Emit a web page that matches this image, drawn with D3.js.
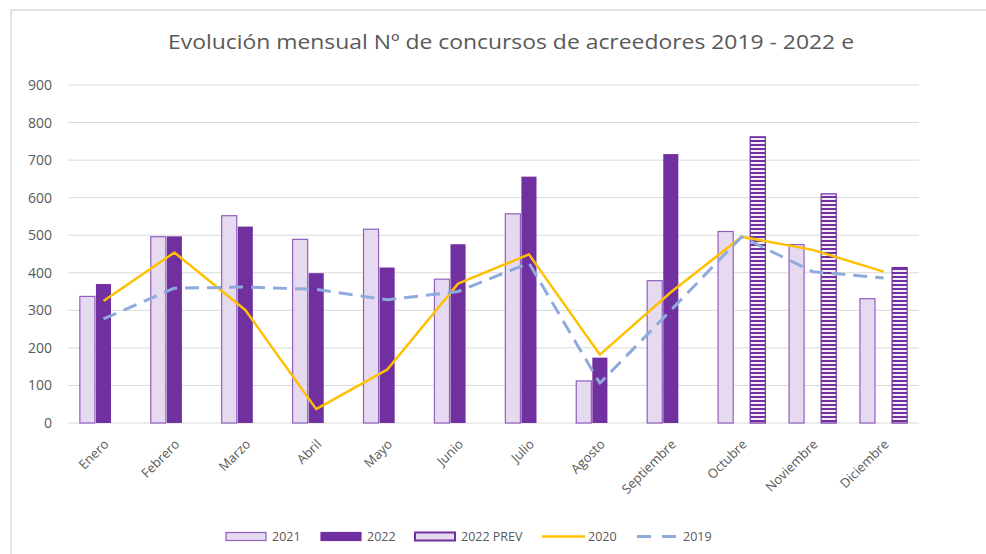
<!DOCTYPE html>
<html>
<head>
<meta charset="utf-8">
<title>Evolución mensual concursos</title>
<script src="https://cdn.jsdelivr.net/npm/d3@7"></script>
<style>
  body { margin: 0; background: #fff; }
  text { font-family: "Open Sans", "Noto Sans", sans-serif; fill: #595959; }
</style>
</head>
<body>
<svg id="chart" width="986" height="554"></svg>
<script>
// data
const months = ["Enero","Febrero","Marzo","Abril","Mayo","Junio","Julio","Agosto","Septiembre","Octubre","Noviembre","Diciembre"];
const v2021 = [337, 496, 552, 489, 516, 383, 557, 112, 379, 510, 475, 331];
const v2022 = [370, 497, 523, 399, 414, 476, 656, 174, 716, null, null, null];
const v2022prev = [null, null, null, null, null, null, null, null, null, 762, 610, 414];
const v2020 = [325, 454, 301, 37, 142, 371, 449, 182, 348, 496, 461, 403];
const v2019 = [277, 359, 362, 356, 328, 350, 426, 106, 300, 496, 403, 386];
const yTicks = [0, 100, 200, 300, 400, 500, 600, 700, 800, 900];

const barSeries = ["2021", "2022", "2022 PREV"];
const barValues = { "2021": v2021, "2022": v2022, "2022 PREV": v2022prev };

const svg = d3.select("#chart");
const purple = "#7030A0";

// pattern for the forecast bars
const defs = svg.append("defs");
const pat = defs.append("pattern")
    .attr("id", "stripes")
    .attr("patternUnits", "userSpaceOnUse")
    .attr("width", 8).attr("height", 4);
pat.append("rect").attr("width", 8).attr("height", 4).attr("fill", "#F4EEF9");
pat.append("rect").attr("width", 8).attr("height", 2).attr("fill", purple);

// chart border (top and left visible)
svg.append("rect")
    .attr("x", 11).attr("y", 10)
    .attr("width", 1000).attr("height", 600)
    .attr("fill", "none")
    .attr("stroke", "#D9D9D9")
    .attr("stroke-width", 1.5);

// title
svg.append("text")
    .attr("x", 511).attr("y", 49)
    .attr("text-anchor", "middle")
    .attr("font-size", 20)
    .attr("textLength", 686)
    .attr("lengthAdjust", "spacingAndGlyphs")
    .text("Evolución mensual Nº de concursos de acreedores 2019 - 2022 e");

const x = d3.scaleBand().domain(months).range([68, 919]).paddingInner(0.32).paddingOuter(0.16);
const xs = d3.scaleBand().domain(barSeries).range([0, x.bandwidth()]);
const y = d3.scaleLinear().domain([0, 900]).range([423, 85]);

// gridlines + y labels
const grid = svg.append("g");
grid.selectAll("line").data(yTicks).join("line")
    .attr("x1", 68).attr("x2", 919)
    .attr("y1", d => y(d)).attr("y2", d => y(d))
    .attr("stroke", "#D9D9D9").attr("stroke-width", 1);
grid.selectAll("text").data(yTicks).join("text")
    .attr("x", 52).attr("y", d => y(d) + 5)
    .attr("text-anchor", "end")
    .attr("font-size", 14)
    .text(d => d);

// bars
const bars = [];
barSeries.forEach(s => {
  barValues[s].forEach((v, i) => {
    if (v != null) bars.push({ s, m: months[i], v });
  });
});
svg.append("g").selectAll("rect").data(bars).join("rect")
    .attr("x", d => x(d.m) + xs(d.s) + 0.5)
    .attr("width", xs.bandwidth() - 1)
    .attr("y", d => y(d.v))
    .attr("height", d => y(0) - y(d.v))
    .attr("fill", d => d.s === "2021" ? "#E6DAF1" : d.s === "2022" ? purple : "url(#stripes)")
    .attr("stroke", d => d.s === "2021" ? "#9060BC" : purple)
    .attr("stroke-width", d => d.s === "2022" ? 0 : 1.2);

// lines
const cx = m => x(m) + x.bandwidth() / 2;
svg.append("path")
    .datum(v2020)
    .attr("fill", "none")
    .attr("stroke", "#FFC000")
    .attr("stroke-width", 2.5)
    .attr("stroke-linejoin", "round")
    .attr("d", d3.line().x((d, i) => cx(months[i])).y(d => y(d)));

svg.append("path")
    .datum(v2019)
    .attr("fill", "none")
    .attr("stroke", "#8FAADC")
    .attr("stroke-width", 3)
    .attr("stroke-dasharray", "14,8")
    .attr("stroke-linejoin", "round")
    .attr("d", d3.line().x((d, i) => cx(months[i])).y(d => y(d)));

// x labels
svg.append("g").selectAll("text").data(months).join("text")
    .attr("transform", d => `translate(${cx(d) + 6},${445}) rotate(-45)`)
    .attr("text-anchor", "end")
    .attr("font-size", 13)
    .text(d => d);

// legend
const legend = [
  { name: "2021", x: 226, type: "bar" },
  { name: "2022", x: 321, type: "bar" },
  { name: "2022 PREV", x: 415, type: "bar" },
  { name: "2020", x: 542, type: "line" },
  { name: "2019", x: 637, type: "dash" }
];
const lg = svg.append("g");
legend.forEach(l => {
  if (l.type === "bar") {
    lg.append("rect")
      .attr("x", l.x).attr("y", 532.5).attr("width", 40).attr("height", 8)
      .attr("fill", l.name === "2021" ? "#E6DAF1" : l.name === "2022" ? purple : "#E6DAF1")
      .attr("stroke", l.name === "2021" ? "#9060BC" : purple)
      .attr("stroke-width", l.name === "2022 PREV" ? 2 : 1.2);
  } else {
    lg.append("line")
      .attr("x1", l.x).attr("x2", l.x + (l.type === "dash" ? 39 : 43))
      .attr("y1", 536.5).attr("y2", 536.5)
      .attr("stroke", l.type === "line" ? "#FFC000" : "#8FAADC")
      .attr("stroke-width", l.type === "line" ? 2.5 : 3)
      .attr("stroke-dasharray", l.type === "dash" ? "14,11" : null);
  }
  lg.append("text")
    .attr("x", l.x + 46).attr("y", 541)
    .attr("font-size", 12.5)
    .text(l.name);
});
</script>
</body>
</html>
